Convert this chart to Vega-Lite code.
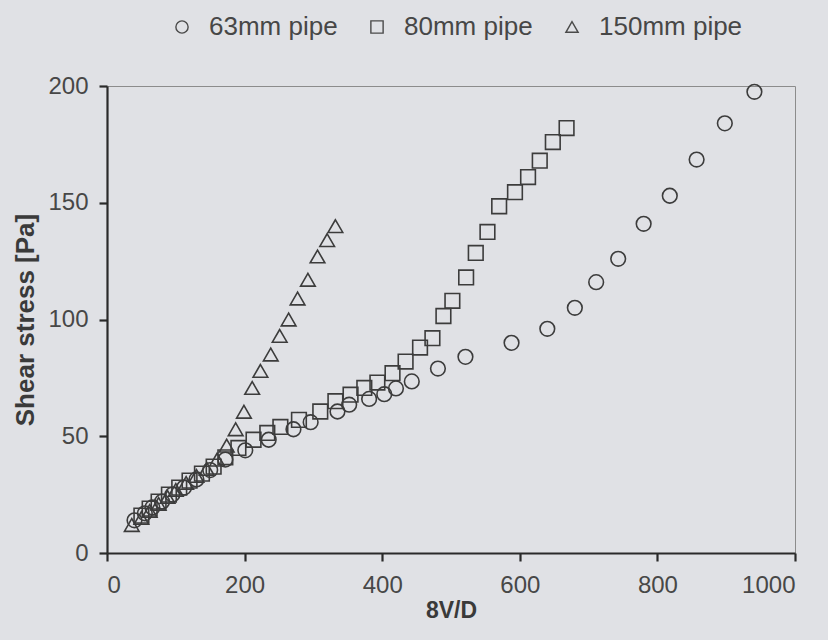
{
  "$schema": "https://vega.github.io/schema/vega-lite/v6.json",
  "width": 688,
  "height": 467,
  "autosize": {"type": "none"},
  "padding": {"left": 107, "top": 86, "right": 33, "bottom": 87},
  "background": "#e0e1e5",
  "config": {
    "view": {"stroke": "#8c8c8c", "strokeWidth": 1},
    "font": "Liberation Sans",
    "axis": {
      "grid": false,
      "domainColor": "#2a2a2a",
      "domainWidth": 2.2,
      "tickColor": "#2a2a2a",
      "tickWidth": 2.2,
      "tickSize": 8,
      "labelFont": "Liberation Sans",
      "labelFontSize": 24,
      "labelColor": "#474747",
      "titleFont": "Liberation Sans",
      "titleFontWeight": "bold",
      "titleColor": "#3a3a3a"
    }
  },
  "data": {
    "values": [
      {"s": "63mm pipe", "x": 40, "y": 14},
      {"s": "63mm pipe", "x": 55, "y": 17},
      {"s": "63mm pipe", "x": 66, "y": 19.5},
      {"s": "63mm pipe", "x": 80, "y": 22},
      {"s": "63mm pipe", "x": 95, "y": 25},
      {"s": "63mm pipe", "x": 112, "y": 28},
      {"s": "63mm pipe", "x": 130, "y": 31.5},
      {"s": "63mm pipe", "x": 150, "y": 35.5},
      {"s": "63mm pipe", "x": 172, "y": 40},
      {"s": "63mm pipe", "x": 201, "y": 44},
      {"s": "63mm pipe", "x": 235, "y": 48.5},
      {"s": "63mm pipe", "x": 271, "y": 53},
      {"s": "63mm pipe", "x": 296, "y": 56},
      {"s": "63mm pipe", "x": 335, "y": 60.6},
      {"s": "63mm pipe", "x": 352, "y": 63.5},
      {"s": "63mm pipe", "x": 381, "y": 66},
      {"s": "63mm pipe", "x": 403, "y": 68},
      {"s": "63mm pipe", "x": 420, "y": 70.5},
      {"s": "63mm pipe", "x": 443, "y": 73.5},
      {"s": "63mm pipe", "x": 481, "y": 79},
      {"s": "63mm pipe", "x": 521, "y": 84},
      {"s": "63mm pipe", "x": 588, "y": 90},
      {"s": "63mm pipe", "x": 640, "y": 96},
      {"s": "63mm pipe", "x": 680, "y": 105},
      {"s": "63mm pipe", "x": 711, "y": 116},
      {"s": "63mm pipe", "x": 743, "y": 126},
      {"s": "63mm pipe", "x": 780, "y": 141},
      {"s": "63mm pipe", "x": 818, "y": 153},
      {"s": "63mm pipe", "x": 857, "y": 168.5},
      {"s": "63mm pipe", "x": 898, "y": 184},
      {"s": "63mm pipe", "x": 941, "y": 197.5},
      {"s": "80mm pipe", "x": 50, "y": 16},
      {"s": "80mm pipe", "x": 62, "y": 19},
      {"s": "80mm pipe", "x": 75, "y": 22},
      {"s": "80mm pipe", "x": 90, "y": 25},
      {"s": "80mm pipe", "x": 105, "y": 28},
      {"s": "80mm pipe", "x": 120, "y": 31},
      {"s": "80mm pipe", "x": 138, "y": 34},
      {"s": "80mm pipe", "x": 155, "y": 37},
      {"s": "80mm pipe", "x": 172, "y": 41},
      {"s": "80mm pipe", "x": 191, "y": 45},
      {"s": "80mm pipe", "x": 213, "y": 48.5},
      {"s": "80mm pipe", "x": 233, "y": 51.4},
      {"s": "80mm pipe", "x": 252, "y": 54},
      {"s": "80mm pipe", "x": 279, "y": 57},
      {"s": "80mm pipe", "x": 310, "y": 60.6},
      {"s": "80mm pipe", "x": 332, "y": 65},
      {"s": "80mm pipe", "x": 354, "y": 67.8},
      {"s": "80mm pipe", "x": 374, "y": 70.7},
      {"s": "80mm pipe", "x": 393, "y": 73},
      {"s": "80mm pipe", "x": 415, "y": 77},
      {"s": "80mm pipe", "x": 434, "y": 82},
      {"s": "80mm pipe", "x": 455, "y": 88},
      {"s": "80mm pipe", "x": 473, "y": 92},
      {"s": "80mm pipe", "x": 489, "y": 101.5},
      {"s": "80mm pipe", "x": 502, "y": 108},
      {"s": "80mm pipe", "x": 522, "y": 118},
      {"s": "80mm pipe", "x": 536, "y": 128.5},
      {"s": "80mm pipe", "x": 553, "y": 137.5},
      {"s": "80mm pipe", "x": 570, "y": 148.5},
      {"s": "80mm pipe", "x": 593, "y": 154.5},
      {"s": "80mm pipe", "x": 612, "y": 161},
      {"s": "80mm pipe", "x": 629, "y": 168},
      {"s": "80mm pipe", "x": 648, "y": 176},
      {"s": "80mm pipe", "x": 668, "y": 182},
      {"s": "150mm pipe", "x": 36, "y": 12},
      {"s": "150mm pipe", "x": 50, "y": 15},
      {"s": "150mm pipe", "x": 62, "y": 18},
      {"s": "150mm pipe", "x": 75, "y": 21},
      {"s": "150mm pipe", "x": 88, "y": 24},
      {"s": "150mm pipe", "x": 100, "y": 27},
      {"s": "150mm pipe", "x": 115, "y": 30},
      {"s": "150mm pipe", "x": 130, "y": 33},
      {"s": "150mm pipe", "x": 145, "y": 36},
      {"s": "150mm pipe", "x": 160, "y": 40},
      {"s": "150mm pipe", "x": 174, "y": 46},
      {"s": "150mm pipe", "x": 187, "y": 53},
      {"s": "150mm pipe", "x": 199, "y": 60.5},
      {"s": "150mm pipe", "x": 211, "y": 70.7},
      {"s": "150mm pipe", "x": 223, "y": 78},
      {"s": "150mm pipe", "x": 238, "y": 85},
      {"s": "150mm pipe", "x": 251, "y": 93},
      {"s": "150mm pipe", "x": 264, "y": 100},
      {"s": "150mm pipe", "x": 277, "y": 109},
      {"s": "150mm pipe", "x": 292, "y": 117},
      {"s": "150mm pipe", "x": 306, "y": 127},
      {"s": "150mm pipe", "x": 320, "y": 134},
      {"s": "150mm pipe", "x": 332, "y": 140}
    ]
  },
  "mark": {"type": "point", "filled": false, "stroke": "#3c3c3c", "strokeWidth": 1.6, "size": 215, "opacity": 1},
  "encoding": {
    "x": {
      "field": "x", "type": "quantitative",
      "scale": {"domain": [0, 1000], "nice": false, "zero": true},
      "axis": {"values": [0, 200, 400, 600, 800, 1000], "format": "d", "title": "8V/D", "titleFontSize": 23, "labelPadding": 12, "titlePadding": 2}
    },
    "y": {
      "field": "y", "type": "quantitative",
      "scale": {"domain": [0, 200], "nice": false},
      "axis": {"values": [0, 50, 100, 150, 200], "format": "d", "title": "Shear stress [Pa]", "titleFontSize": 26, "labelPadding": 11, "titlePadding": 9}
    },
    "shape": {
      "field": "s", "type": "nominal",
      "sort": ["63mm pipe", "80mm pipe", "150mm pipe"],
      "scale": {"domain": ["63mm pipe", "80mm pipe", "150mm pipe"], "range": ["circle", "square", "triangle-up"]},
      "legend": {
        "title": null,
        "orient": "none",
        "direction": "horizontal",
        "legendX": 62,
        "legendY": -72,
        "labelFontSize": 26,
        "labelFont": "Liberation Sans",
        "labelColor": "#474747",
        "symbolSize": 150,
        "symbolStrokeColor": "#4a4a4a",
        "symbolStrokeWidth": 1.4,
        "symbolFillColor": "transparent",
        "columnPadding": 26,
        "labelOffset": 14
      }
    }
  }
}
